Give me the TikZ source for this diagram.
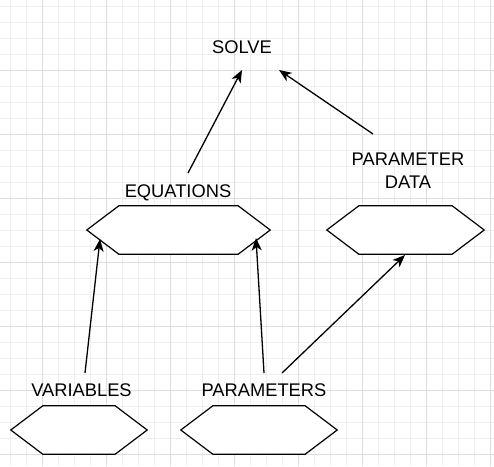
\documentclass[tikz,border=0pt]{standalone}
\usepackage{fontspec}
\setmainfont{Liberation Sans}
\usetikzlibrary{arrows.meta}
\definecolor{minorgrid}{HTML}{EFEFEF}
\definecolor{majorgrid}{HTML}{DEDEDE}
\newcommand\hexoutline[1]{\draw[hexline] (#1.west) -- ([xshift=32pt]#1.north west) -- ([xshift=-32pt]#1.north east) -- (#1.east) -- ([xshift=-32pt]#1.south east) -- ([xshift=32pt]#1.south west) -- cycle;}
\begin{document}
\begin{tikzpicture}[x=1pt,y=-1pt,
  hexbox/.style={draw=none,inner sep=0pt,minimum height=48pt},
  hexline/.style={draw=black,fill=white,line width=1.2pt,line join=miter},
  lbl/.style={inner sep=0pt,font=\fontsize{18.3}{23}\selectfont,text=black},
  arr/.style={draw=black,line width=1.3pt,-{Stealth[length=12.5pt,width=10pt,inset=3.5pt]}}]
\useasboundingbox (0,0) rectangle (494,466);
\fill[white] (0,0) rectangle (494,466);
% grid
\foreach \x in {10,26,...,490} \draw[minorgrid,line width=1pt] (\x,0) -- (\x,466);
\foreach \y in {6,22,...,460} \draw[minorgrid,line width=1pt] (0,\y) -- (494,\y);
\foreach \x in {42,106,...,490} \draw[majorgrid,line width=1pt] (\x,0) -- (\x,466);
\foreach \y in {70,134,...,460} \draw[majorgrid,line width=1pt] (0,\y) -- (494,\y);
% hexagons
\node[hexbox,minimum width=183pt] (eq) at (178.5,230) {};
\node[hexbox,minimum width=157pt] (pd) at (405.5,230) {};
\node[hexbox,minimum width=136pt] (var) at (79,430) {};
\node[hexbox,minimum width=156pt] (par) at (259,430) {};
\hexoutline{eq}
\hexoutline{pd}
\hexoutline{var}
\hexoutline{par}
% labels
\node[lbl,anchor=base] (solve) at (242,53) {SOLVE};
\node[lbl,anchor=base] (eqlbl) at (178,197) {EQUATIONS};
\node[lbl,align=center] (pdlbl) at (408,171) {PARAMETER\\DATA};
\node[lbl,anchor=base] (varlbl) at (81.5,396) {VARIABLES};
\node[lbl,anchor=base] (parlbl) at (264,396) {PARAMETERS};
% connector ends
\coordinate (solveL) at (242,70);
\coordinate (solveR) at (279,70);
\coordinate (eqTop) at (188,173);
\coordinate (pdTop) at (373,134);
\coordinate (varTop) at (85,373);
\coordinate (parTopA) at (264,373);
\coordinate (parTopB) at (282,373);
\coordinate (eqInL) at (100,239);
\coordinate (eqInR) at (256,238);
\coordinate (pdIn) at (405,255);
% connectors
\draw[arr] (eqTop) -- (solveL);
\draw[arr] (pdTop) -- (solveR);
\draw[arr] (varTop) -- (eqInL);
\draw[arr] (parTopA) -- (eqInR);
\draw[arr] (parTopB) -- (pdIn);
\end{tikzpicture}
\end{document}
